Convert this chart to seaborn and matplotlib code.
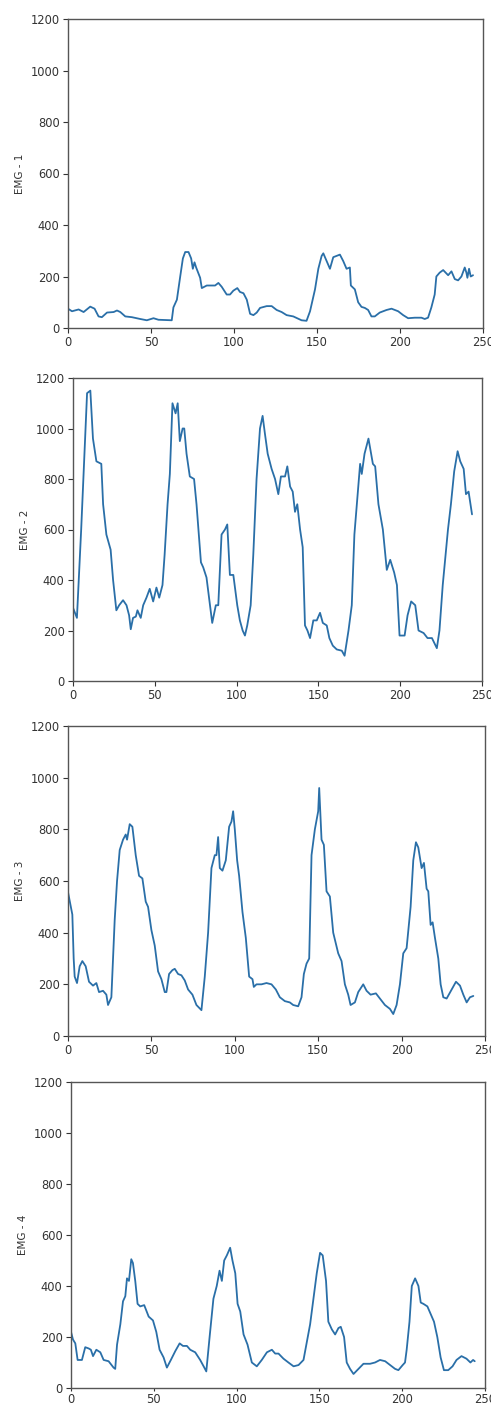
import seaborn as sns
import matplotlib.pyplot as plt
import pandas as pd

sns.set_style("ticks")
plt.rcParams['font.family'] = ['DejaVu Sans']

# EMG-1 (sample index, value)
emg1_x = [0, 2.4, 6.4, 9.4, 13.4, 16, 18.4, 20.4, 23.5, 27.5, 29.5, 31.5, 34.5, 38.5, 43.5, 47.5,
          51.5, 54.5, 62.5, 63.5, 65.6, 67.6, 69.2, 70.6, 72.6, 74.2, 75.2, 76.2, 77.2, 79.6, 80.6,
          83.6, 88.6, 90.6, 92.6, 95.6, 97.6, 99.6, 102, 103.6, 105.7, 107.7, 109.7, 111.7, 113.7,
          115.7, 119.7, 122.7, 125.7, 128.7, 131.7, 135.7, 140.7, 143.7, 145.8, 148.8, 150.8, 152.8,
          153.8, 155.8, 157.8, 159.8, 161.8, 163.8, 165.8, 167.8, 169.8, 170.4, 172.8, 174.8, 176.8,
          178.8, 180.8, 182.8, 184.8, 187.8, 191.9, 194.9, 198.9, 201.9, 204.9, 208.9, 212.9, 214.9,
          216.9, 218.9, 220.9, 221.9, 223.9, 226, 229, 231, 233, 235, 237, 239, 240, 240.6, 241.6,
          242.6, 244]
emg1_y = [75, 65, 72, 62, 83, 75, 45, 42, 60, 62, 68, 62, 45, 42, 35, 30,
          38, 32, 30, 80, 110, 200, 270, 295, 295, 270, 230, 255, 235, 195, 155,
          165, 165, 175, 160, 130, 130, 145, 155, 140, 135, 110, 55, 50, 60,
          78, 85, 85, 70, 62, 50, 45, 30, 28, 65, 150, 230, 280,
          290, 260, 230, 275, 280, 285, 260, 230, 235, 165, 150, 100, 82,
          78, 70, 45, 45, 60, 70, 75, 65, 50, 38, 40, 40, 35,
          40, 80, 130, 200, 215, 225, 205, 220, 190, 185, 200, 235, 215, 195, 230,
          200, 205]

# EMG-2
emg2_x = [0, 2.4, 5, 8.6, 10.6, 12.2, 14.3, 17.3, 18.4, 20.4, 23, 24.5, 26.5, 28.2, 30.6, 32.7,
          34.3, 35.3, 36.7, 38.4, 39.4, 41.4, 42.9, 44.9, 46.9, 49, 51, 52.7, 54.7, 56, 57.8, 59.2,
          60.8, 62.7, 64, 65.3, 67, 68, 69.4, 71.4, 74, 75.5, 76.7, 78.2, 79.6, 81.6, 83.7, 85.1,
          87.3, 88.8, 90.8, 92.9, 94.3, 95.9, 98, 100.4, 102, 103.7, 105.1, 106.5, 108.6, 110.2,
          112.2, 114.3, 115.9, 117.3, 119, 121.4, 123.5, 125.5, 127.1, 129.6, 131, 132.7, 134.3,
          135.7, 137.1, 138.8, 140.4, 141.8, 143.3, 144.9, 146.9, 149, 151, 152.7, 155.1, 156.7,
          158.8, 161.2, 164.3, 166, 168.4, 170.4, 172, 173.5, 175.5, 176.5, 178.2, 180.6, 183.3,
          184.7, 186.7, 189.4, 191.8, 193.9, 196.3, 198, 199.6, 202.7, 204.5, 206.7, 209.2, 211.2,
          214.3, 216.7, 219.4, 222.4, 224, 226, 229.2, 231, 233, 235.1, 236.7, 238.8, 240.2, 241.8,
          243.9]
emg2_y = [290, 250, 600, 1140, 1150, 960, 870, 860, 700, 580, 520, 400, 280, 300, 320, 300,
          260, 205, 250, 255, 280, 250, 300, 330, 365, 315, 370, 330, 380, 500, 700, 820,
          1100, 1060, 1100, 950, 1000, 1000, 900, 810, 800, 700, 600, 470, 450, 410, 300, 230,
          300, 300, 580, 600, 620, 420, 420, 300, 240, 200, 180, 220, 300, 500,
          800, 1000, 1050, 980, 900, 840, 800, 740, 810, 810, 850, 770, 750,
          670, 700, 600, 530, 220, 200, 170, 240, 240, 270, 230, 220, 170,
          140, 125, 120, 100, 200, 300, 580, 700, 860, 820, 900, 960, 860,
          850, 700, 600, 440, 480, 430, 380, 180, 180, 260, 315, 300, 200,
          190, 170, 170, 130, 200, 380, 600, 700, 830, 910, 870, 840, 740, 750,
          660]

# EMG-3
emg3_x = [0, 2.6, 3.4, 4, 5.4, 7, 8.6, 10.6, 12.6, 15, 17, 18.6, 21, 23, 24, 26, 28, 29.4, 31,
          33, 34.6, 35.4, 37, 38.6, 40.6, 42.6, 44.6, 46.6, 48, 50, 52, 54, 56, 58, 59, 60.6, 62.6,
          64, 66, 68, 70, 72, 74.6, 77, 80, 82, 84, 86, 88, 89, 90, 91, 92.6, 94.6, 96.6, 98, 99,
          100, 101.4, 102.6, 104.6, 106.6, 108.6, 110.6, 111.4, 113, 116, 119, 122, 124.6, 127, 130,
          133, 135, 138, 140, 141.4, 143, 144.6, 146, 148, 150, 150.6, 152, 153.4, 155, 157, 159,
          162, 164, 166, 168, 169.4, 172, 174, 177, 179, 181.4, 184.6, 187, 190, 193, 195, 197, 199,
          201, 203, 205.4, 207, 208.6, 210, 212, 213.4, 215, 216, 217.4, 218.6, 220, 222, 223.4,
          225, 227, 230, 232.6, 235, 237, 239, 241, 243]
emg3_y = [557, 470, 300, 230, 205, 270, 290, 270, 210, 195, 205, 170, 175, 160, 120, 150, 450, 600,
          720, 760, 780, 760, 820, 810, 700, 620, 610, 520, 500, 410, 350, 250, 220, 170, 170, 240,
          255, 260, 240, 235, 215, 180, 160, 120, 100, 230, 400, 650, 700, 700, 770, 650, 640, 680,
          810, 830, 870, 800, 680, 620, 480, 380, 230, 220, 190, 200, 200, 205, 200, 180, 150, 135,
          130, 120, 115, 150, 240, 280, 300, 700, 800, 870, 960, 760, 740, 560, 540, 400,
          320, 290, 200, 160, 120, 130, 170, 200, 175, 160, 165, 145, 120, 105, 85, 120, 200,
          320, 340, 500, 680, 750, 730, 650, 670, 570, 560, 430, 440, 380, 300, 200,
          150, 145, 180, 210, 195, 160, 130, 150, 155]

# EMG-4
emg4_x = [0, 1.2, 2.6, 4, 6.6, 8.6, 10.7, 12, 13.3, 15.3, 17.7, 19.7, 22.7, 25.7, 26.7, 27.8,
          29.8, 31.4, 32.8, 33.8, 35, 36.4, 37.4, 38.8, 40.2, 41.8, 44.2, 46.9, 49.5, 51.5, 53.5,
          55.9, 57.9, 60.3, 63, 65.6, 67.6, 70, 72, 75, 78, 80.5, 81.7, 83.7, 86, 88, 89.7, 91.1,
          92.5, 94.1, 96.1, 97.5, 99.2, 100.6, 102.2, 104.2, 106.6, 109.2, 112.2, 115.2, 118.3,
          121.3, 123.3, 125.3, 128.3, 131.3, 134.4, 137.4, 140.4, 142.4, 144.4, 146.4, 148.4,
          150.4, 152, 154, 155.4, 157.5, 159.5, 161.5, 162.9, 164.9, 166.5, 168.5, 170.6, 173.6,
          176.6, 180.6, 183.6, 186.6, 189.7, 192.7, 195.7, 197.7, 200.3, 201.7, 202.7, 204.4,
          205.8, 207.8, 209.8, 211.2, 212.8, 215.2, 217.2, 219.2, 221.2, 223.2, 225.2, 227.8,
          230.4, 232.8, 235.8, 238.8, 241.2, 242.8, 243.8]
emg4_y = [220, 190, 175, 110, 110, 160, 155, 150, 125, 150, 140, 110, 105, 80, 75, 170,
          250, 340, 360, 430, 420, 505, 490, 420, 330, 320, 325, 280, 265, 220, 150,
          120, 80, 110, 145, 175, 165, 165, 150, 140, 110, 80, 65, 200, 350, 400, 460, 420,
          500, 520, 550, 500, 450, 330, 300, 210, 170, 100, 85, 110, 140,
          150, 135, 135, 115, 100, 85, 90, 110, 180, 250, 350, 450,
          530, 520, 420, 260, 230, 210, 235, 240, 200, 100, 75, 55, 75,
          95, 95, 100, 110, 105, 90, 75, 70, 90, 100, 150, 260,
          400, 430, 400, 335, 330, 320, 290, 260, 200, 120, 70, 70,
          85, 110, 125, 115, 100, 110, 105]

series = [("EMG - 1", emg1_x, emg1_y), ("EMG - 2", emg2_x, emg2_y),
          ("EMG - 3", emg3_x, emg3_y), ("EMG - 4", emg4_x, emg4_y)]

# pixel boxes of each panel (left, right, top, bottom)
boxes = [(68, 483, 19, 328), (73, 482, 378, 681), (68, 485, 726, 1036), (71, 485, 1082, 1388)]

W, H = 491, 1407
fig = plt.figure(figsize=(W / 100, H / 100), dpi=100)

for i, ((label, xs, ys), (l, r, t, b)) in enumerate(zip(series, boxes)):
    ax = fig.add_axes([l / W, 1 - b / H, (r - l) / W, (b - t) / H])
    df = pd.DataFrame({"x": xs, "y": ys})
    sns.lineplot(data=df, x="x", y="y", ax=ax, color="#2a6fa8", linewidth=1.3)
    ax.set(xlim=(0, 250), ylim=(0, 1200), xlabel="", ylabel=label)
    ax.set_xticks([0, 50, 100, 150, 200, 250])
    ax.set_yticks(range(0, 1201, 200))
    ax.tick_params(labelsize=8.3, colors="#333333", length=3.5, width=0.8, pad=2.5)
    if i == 3:
        # last row sits right at the bottom edge
        ax.tick_params(axis="x", length=2.5, pad=1)
    ax.yaxis.label.set_size(7.5)
    ax.yaxis.label.set_color("#333333")
    for sp in ax.spines.values():
        sp.set_color("#555555")
        sp.set_linewidth(1.0)

fig.savefig("out.png", dpi=100)
